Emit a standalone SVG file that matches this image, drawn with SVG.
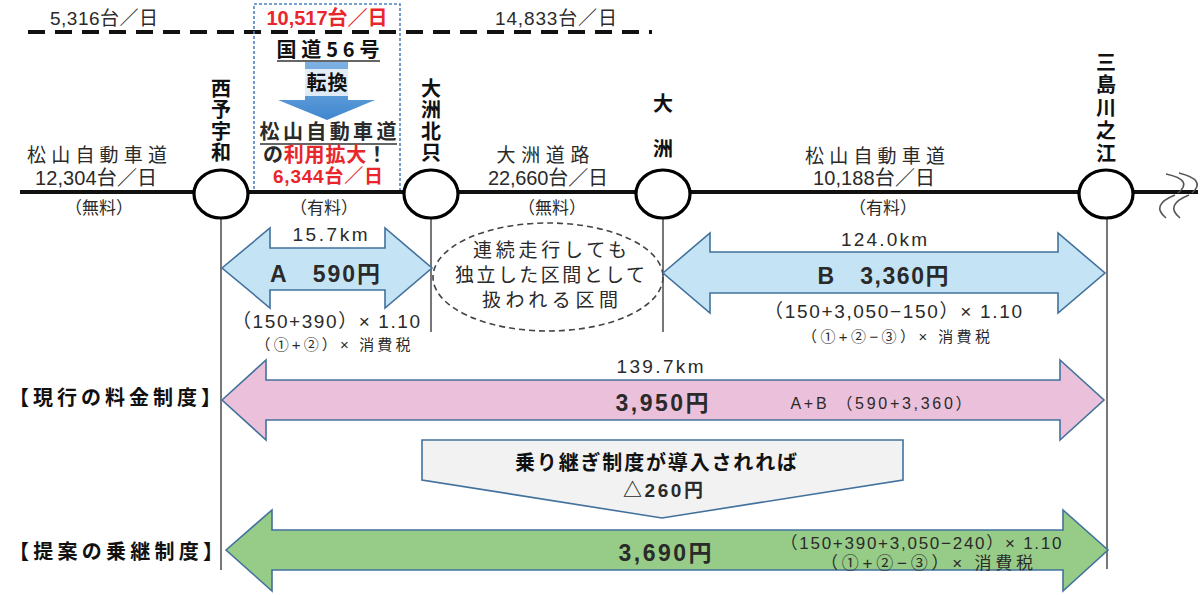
<svg xmlns="http://www.w3.org/2000/svg" width="1203" height="595" viewBox="0 0 1203 595">
<defs>
<style>
.t{font-family:"Liberation Sans","Noto Sans CJK JP",sans-serif;fill:#2a2a2a;text-anchor:middle}
.j{font-family:"Noto Sans CJK JP","Liberation Sans",sans-serif;fill:#111;text-anchor:middle;font-weight:bold}
.v{font-family:"Noto Sans CJK JP",sans-serif;fill:#111;font-weight:bold;font-size:20px;writing-mode:vertical-rl;text-anchor:start}
.b{font-weight:bold}
.red{fill:#e8262b}
.st{fill:#fff;stroke:#000;stroke-width:3.2}
.vl{stroke:#555;stroke-width:1.6;fill:none}
.arr{stroke:#41719c;stroke-width:1.6}
</style>
<linearGradient id="blueg" x1="0" y1="0" x2="0" y2="1">
<stop offset="0" stop-color="#7fb2e3"/>
<stop offset="1" stop-color="#3f87cf"/>
</linearGradient>
</defs>
<rect width="1203" height="595" fill="#fff"/>

<!-- top traffic counts -->
<g id="route56">
<line x1="28" y1="32" x2="652" y2="32" stroke="#111" stroke-width="4" stroke-dasharray="17 10"/>
<text class="t" x="104" y="25" font-size="19" textLength="108" lengthAdjust="spacing">5,316台／日</text>
<text class="t b red" x="327" y="25" font-size="20" textLength="121" lengthAdjust="spacing">10,517台／日</text>
<text class="t" x="556" y="25" font-size="19" textLength="122" lengthAdjust="spacing">14,833台／日</text>
</g>

<!-- conversion box -->
<g id="conversion">
<rect x="254" y="4" width="146" height="189" fill="none" stroke="#4f81bd" stroke-width="1.6" stroke-dasharray="3 2"/>
<text class="j" x="328" y="57" font-size="20" textLength="103" lengthAdjust="spacing" fill="#222">国道56号</text>
<line x1="277" y1="61" x2="380" y2="61" stroke="#333" stroke-width="1.5"/>
<polygon points="305,62 348,62 348,100 375,100 327,120 278,100 305,100" fill="url(#blueg)"/>
<rect x="303" y="69" width="47" height="27" fill="#fff" opacity="0.8"/>
<text class="j" x="327" y="90" font-size="20" fill="#333" textLength="41" lengthAdjust="spacing">転換</text>
<text class="t b" x="328" y="139" font-size="20" textLength="137" lengthAdjust="spacing" fill="#222">松山自動車道</text>
<line x1="260" y1="144" x2="397" y2="144" stroke="#333" stroke-width="1.5"/>
<text class="t b" x="325" y="161.5" font-size="20" textLength="124" lengthAdjust="spacing" fill="#222">の<tspan class="red">利用拡大</tspan>！</text>
<text class="t b red" x="328" y="183" font-size="19" textLength="110" lengthAdjust="spacing">6,344台／日</text>
</g>

<!-- connectors -->
<g id="connectors">
<line x1="20" y1="192" x2="1198" y2="192" stroke="#111" stroke-width="4"/>
<path d="M1166,174 Q1194,180 1178,193 M1179,173 Q1207,180 1192,193" class="vl" stroke="#666" stroke-width="2"/>
<path d="M1175,195 Q1150,205 1166,218 M1189,195 Q1164,205 1180,218" class="vl" stroke="#666" stroke-width="2"/>
<line class="vl" x1="221" y1="216" x2="221" y2="570"/>
<line class="vl" x1="431" y1="216" x2="431" y2="332"/>
<line class="vl" x1="663" y1="216" x2="663" y2="332"/>
<line class="vl" x1="1107" y1="216" x2="1107" y2="569"/>
</g>

<!-- road segment labels -->
<g id="seg-left">
<text class="t" x="97" y="162" font-size="19" textLength="140" lengthAdjust="spacing">松山自動車道</text>
<text class="t" x="96" y="185" font-size="20" textLength="122" lengthAdjust="spacing">12,304台／日</text>
<text class="t" x="99" y="214" font-size="17" textLength="68" lengthAdjust="spacing">（無料）</text>
</g>
<g id="seg-a">
<text class="t" x="324" y="214" font-size="17" textLength="68" lengthAdjust="spacing">（有料）</text>
</g>
<g id="seg-ozu">
<text class="t" x="543" y="162" font-size="19" textLength="93" lengthAdjust="spacing">大洲道路</text>
<text class="t" x="548" y="185" font-size="20" textLength="120" lengthAdjust="spacing">22,660台／日</text>
<text class="t" x="552" y="214" font-size="17" textLength="68" lengthAdjust="spacing">（無料）</text>
</g>
<g id="seg-b">
<text class="t" x="875" y="163" font-size="19" textLength="140" lengthAdjust="spacing">松山自動車道</text>
<text class="t" x="874" y="185" font-size="20" textLength="122" lengthAdjust="spacing">10,188台／日</text>
<text class="t" x="883" y="214" font-size="17" textLength="68" lengthAdjust="spacing">（有料）</text>
</g>

<!-- stations -->
<g id="st-seiyouwa">
<ellipse class="st" cx="221" cy="194" rx="27" ry="24"/>
<text class="v" x="221" y="78" letter-spacing="1.5">西予宇和</text>
</g>
<g id="st-ozukitatada">
<ellipse class="st" cx="431" cy="194" rx="27" ry="24"/>
<text class="v" x="431" y="78" letter-spacing="1.5">大洲北只</text>
</g>
<g id="st-ozu">
<ellipse class="st" cx="663" cy="194" rx="27" ry="24"/>
<text class="v" x="663" y="93" letter-spacing="25">大洲</text>
</g>
<g id="st-mishima">
<ellipse class="st" cx="1106" cy="194" rx="27" ry="24"/>
<text class="v" x="1106" y="52" letter-spacing="2.75">三島川之江</text>
</g>

<!-- section A -->
<g id="arrow-a">
<polygon class="arr" fill="#c4e4f6" points="222,268 270,228 270,248 385,248 385,228 432,268 385,308 385,290 270,290 270,308"/>
<text class="t" x="330" y="241" font-size="19" textLength="75" lengthAdjust="spacing">15.7km</text>
<text class="t b" x="325" y="282" font-size="23" fill="#111" textLength="110" lengthAdjust="spacing">A　590円</text>
<text class="t" x="326" y="328" font-size="19" textLength="188" lengthAdjust="spacing">（150+390）× 1.10</text>
<text class="t" x="333" y="350" font-size="15" textLength="155" lengthAdjust="spacing">（①+②）× 消費税</text>
</g>

<!-- independent section note -->
<g id="note-independent">
<ellipse cx="548" cy="277" rx="115" ry="54" fill="none" stroke="#444" stroke-width="1.6" stroke-dasharray="6 4"/>
<text class="t" x="550" y="257" font-size="19" textLength="154" lengthAdjust="spacing">連続走行しても</text>
<text class="t" x="550" y="282" font-size="19" textLength="190" lengthAdjust="spacing">独立した区間として</text>
<text class="t" x="550" y="307" font-size="19" textLength="136" lengthAdjust="spacing">扱われる区間</text>
</g>

<!-- section B -->
<g id="arrow-b">
<polygon class="arr" fill="#c4e4f6" points="663,273 710,233 710,252 1058,252 1058,233 1105,273 1058,313 1058,293 710,293 710,313"/>
<text class="t" x="884" y="246" font-size="19" textLength="86" lengthAdjust="spacing">124.0km</text>
<text class="t b" x="883" y="284" font-size="23" fill="#111" textLength="131" lengthAdjust="spacing">B　3,360円</text>
<text class="t" x="893" y="318" font-size="19" textLength="258" lengthAdjust="spacing">（150+3,050−150）× 1.10</text>
<text class="t" x="896" y="342" font-size="15" textLength="188" lengthAdjust="spacing">（①+②−③）× 消費税</text>
</g>

<!-- current system -->
<g id="current-system">
<text class="j" x="115" y="405" font-size="20" textLength="212" lengthAdjust="spacing" fill="#222">【現行の料金制度】</text>
<polygon class="arr" fill="#ebc0da" points="222,400 266,360 266,380 1060,380 1060,360 1104,400 1060,440 1060,420 266,420 266,440"/>
<text class="t" x="660" y="373" font-size="19" textLength="87" lengthAdjust="spacing">139.7km</text>
<text class="t b" x="662" y="411" font-size="23" fill="#111" textLength="93" lengthAdjust="spacing">3,950円</text>
<text class="t" x="881" y="409" font-size="16" textLength="181" lengthAdjust="spacing">A+B （590+3,360）</text>
</g>

<!-- reduction callout -->
<g id="reduction">
<polygon points="422,440 903,440 903,480 662,518 422,480" fill="#f2f2f2" stroke="#41719c" stroke-width="1.6"/>
<text class="j" x="656" y="470" font-size="20" textLength="282" lengthAdjust="spacing" fill="#222">乗り継ぎ制度が導入されれば</text>
<text class="t b" x="663" y="497" font-size="19" textLength="80" lengthAdjust="spacing" fill="#222">△260円</text>
</g>

<!-- proposed system -->
<g id="proposed-system">
<text class="j" x="116" y="559" font-size="20" textLength="214" lengthAdjust="spacing" fill="#222">【提案の乗継制度】</text>
<polygon class="arr" fill="#97cc88" points="226,550 272,510 272,530 1063,530 1063,510 1108,550 1063,591 1063,570 272,570 272,591"/>
<text class="t b" x="665" y="561" font-size="23" fill="#111" textLength="93" lengthAdjust="spacing">3,690円</text>
<text class="t" x="921" y="549" font-size="17" textLength="281" lengthAdjust="spacing">（150+390+3,050−240）× 1.10</text>
<text class="t" x="927" y="569" font-size="17" textLength="212" lengthAdjust="spacing">（①+②−③）× 消費税</text>
</g>
</svg>
